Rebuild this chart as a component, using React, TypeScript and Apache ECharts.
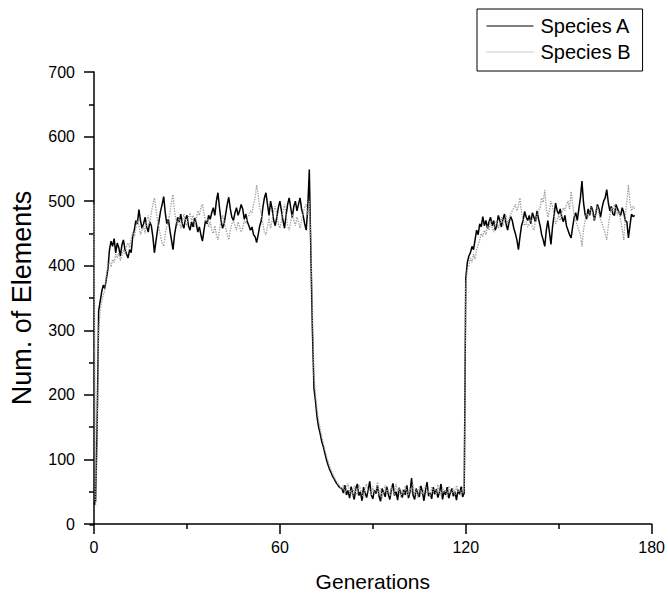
import React, { useEffect, useRef } from "react";
import * as echarts from "echarts";

// Sampling step of the simulation output (generations per sample)
const STEP = 0.5;

const xTicks = [0, 60, 120, 180];
const yTicks = [0, 100, 200, 300, 400, 500, 600, 700];
const seriesNames = ["Species A", "Species B"];

// Species A, one value every 0.5 generation from t = 0
const speciesA = [
  30, 35, 150, 330, 345, 360, 370, 365, 380, 395, 425, 438, 430, 442, 420, 435, 428, 415, 432, 440,
  425, 418, 412, 425, 420, 445, 455, 470, 465, 487, 470, 458, 465, 475, 460, 452, 468, 462, 445, 420,
  438, 455, 470, 485, 495, 507, 482, 465, 472, 455, 440, 425, 448, 462, 475, 468, 480, 465, 458, 472,
  478, 462, 455, 468, 460, 474, 466, 452, 460, 448, 438, 455, 470, 465, 478, 472, 482, 490, 478, 500,
  513, 490, 470, 458, 465, 480, 495, 506, 488, 475, 470, 482, 490, 478, 485, 495, 488, 472, 480, 468,
  462, 455, 460, 448, 445, 436, 448, 462, 470, 490, 505, 513, 495, 478, 500, 488, 470, 462, 475, 490,
  500, 485, 470, 458, 478, 495, 505, 490, 475, 492, 500, 485, 495, 505, 488, 478, 465, 455, 490, 549,
  420, 300, 210, 190, 165, 150, 140, 128, 120, 110, 100, 92, 85, 80, 74, 70, 65, 62, 58, 56,
  55, 48, 60, 45, 52, 40, 58, 47, 38, 55, 62, 44, 50, 36, 57, 48, 41, 53, 66, 45,
  39, 52, 47, 60, 43, 35, 55, 49, 42, 58, 46, 38, 54, 63, 44, 50, 37, 56, 48, 41,
  53, 45, 60, 40, 49, 71, 44, 38, 55, 47, 42, 59, 50, 36, 52, 65, 43, 48, 39, 57,
  46, 54, 41, 49, 62, 38, 51, 45, 57, 40, 48, 55, 43, 50, 37, 53, 46, 58, 42, 48,
  380, 405, 415, 420, 430, 425, 440, 455, 448, 465, 460, 476, 462, 470, 458, 468, 475, 462, 470, 455,
  462, 478, 470, 460, 472, 480, 465, 455, 468, 476, 470, 458, 450, 440, 425, 445, 462, 470, 484, 475,
  470, 478, 465, 482, 475, 468, 485, 472, 462, 448, 440, 430, 455, 470, 452, 433, 460, 478, 497, 485,
  480, 488, 475, 468, 478, 462, 455, 448, 443, 460, 475, 482, 470, 488, 505, 531, 498, 480, 472, 488,
  478, 492, 485, 470, 482, 495, 488, 475, 490, 500, 505, 518, 498, 485, 492, 480, 478, 495, 488, 482,
  478, 490, 482, 470, 468, 443, 462, 480, 476, 478,
];

// Species B, one value every 0.5 generation from t = 0
const speciesB = [
  494, 28, 120, 300, 330, 345, 355, 362, 385, 400, 405, 398, 410, 405, 418, 412, 420, 408, 415, 425,
  418, 430, 435, 428, 442, 452, 445, 458, 470, 462, 448, 455, 462, 450, 470, 478, 465, 482, 495, 505,
  488, 470, 458, 445, 435, 430, 448, 462, 470, 482, 498, 510, 485, 470, 462, 475, 458, 468, 480, 470,
  462, 475, 482, 470, 478, 460, 472, 485, 478, 490, 495, 480, 468, 472, 460, 468, 455, 450, 462, 448,
  440, 455, 470, 478, 468, 458, 448, 440, 455, 465, 470, 462, 455, 468, 460, 452, 458, 470, 465, 475,
  478, 485, 482, 495, 505, 525, 510, 490, 480, 465, 452, 448, 460, 475, 458, 470, 485, 492, 478, 465,
  458, 470, 485, 495, 478, 462, 455, 468, 480, 470, 462, 475, 468, 458, 470, 482, 490, 495, 478, 500,
  440, 330, 230, 200, 178, 160, 148, 135, 126, 115, 106, 98, 90, 84, 78, 73, 68, 64, 60, 58,
  52, 60, 48, 56, 63, 47, 53, 42, 59, 50, 45, 61, 54, 47, 40, 56, 62, 49, 53, 44,
  58, 47, 51, 65, 45, 55, 40, 52, 60, 48, 54, 43, 57, 50, 46, 62, 49, 55, 42, 53,
  47, 59, 51, 44, 56, 49, 62, 45, 53, 41, 58, 50, 46, 55, 60, 48, 52, 43, 57, 50,
  55, 46, 61, 50, 44, 57, 49, 53, 42, 59, 51, 47, 56, 45, 60, 49, 53, 44, 57, 50,
  370, 395, 400, 412, 405, 418, 410, 425, 432, 440, 450, 445, 455, 448, 462, 455, 470, 460, 452, 465,
  470, 458, 465, 475, 462, 470, 478, 465, 472, 480, 485, 490, 495, 485, 492, 505, 482, 470, 462, 468,
  460, 465, 472, 460, 455, 470, 478, 485, 490, 505, 498, 517, 490, 475, 485, 500, 492, 478, 465, 470,
  478, 470, 482, 490, 485, 495, 500, 488, 515, 495, 478, 470, 462, 455, 448, 430, 455, 470, 482, 475,
  482, 490, 478, 470, 485, 492, 480, 472, 465, 458, 450, 440, 462, 478, 490, 485, 495, 488, 478, 485,
  470, 455, 440, 478, 500, 525, 498, 485, 492, 488,
];

const FONT = "'Liberation Sans', Arial, Helvetica, sans-serif";

export default function App() {
  const ref = useRef<HTMLDivElement>(null);

  useEffect(() => {
    if (!ref.current) return;
    const chart = echarts.init(ref.current, null, { renderer: "svg" });
    const toPairs = (arr: number[]) => arr.map((v, i) => [i * STEP, v]);

    const axisCommon = {
      axisLine: { show: true, lineStyle: { color: "#000", width: 1.5 } },
      axisTick: { show: true, inside: false, length: 10, lineStyle: { color: "#000", width: 1.5 } },
      minorTick: { show: true, splitNumber: 2, length: 5, lineStyle: { color: "#000", width: 1.5 } },
      splitLine: { show: false },
      minorSplitLine: { show: false },
    };

    chart.setOption({
      animation: false,
      backgroundColor: "#fff",
      textStyle: { fontFamily: FONT },
      grid: { left: 93, right: 14, top: 72, bottom: 72, containLabel: false },
      legend: {
        orient: "vertical",
        left: 477,
        top: 9,
        padding: [7, 12, 9, 9],
        itemWidth: 47,
        itemHeight: 14,
        itemGap: 6,
        borderColor: "#000",
        borderWidth: 1,
        backgroundColor: "#fff",
        itemStyle: { opacity: 0 },
        lineStyle: { width: 1 },
        textStyle: {
          fontSize: 20,
          lineHeight: 20,
          color: "#000",
          fontFamily: FONT,
          padding: [0, 0, 0, 2],
        },
        data: seriesNames,
      },
      xAxis: {
        type: "value",
        min: xTicks[0],
        max: xTicks[xTicks.length - 1],
        interval: xTicks[1] - xTicks[0],
        name: "Generations",
        nameLocation: "middle",
        nameGap: 47,
        nameTextStyle: { fontSize: 21, color: "#000", fontFamily: FONT },
        axisLabel: { fontSize: 16, color: "#000", margin: 15, fontFamily: FONT },
        ...axisCommon,
      },
      yAxis: {
        type: "value",
        min: yTicks[0],
        max: yTicks[yTicks.length - 1],
        interval: yTicks[1] - yTicks[0],
        offset: 3,
        name: "Num. of Elements",
        nameLocation: "middle",
        nameGap: 56,
        nameTextStyle: { fontSize: 27, color: "#000", fontFamily: FONT },
        axisLabel: { fontSize: 16, color: "#000", margin: 16, fontFamily: FONT },
        ...axisCommon,
      },
      graphic: [
        {
          type: "line",
          shape: { x1: 89.5, y1: 525, x2: 93.5, y2: 525 },
          style: { stroke: "#000", lineWidth: 1.5 },
        },
      ],
      series: [
        {
          name: seriesNames[0],
          type: "line",
          data: toPairs(speciesA),
          symbol: "none",
          lineStyle: { color: "#000", width: 1.5 },
          itemStyle: { color: "#000" },
        },
        {
          name: seriesNames[1],
          type: "line",
          data: toPairs(speciesB),
          symbol: "none",
          lineStyle: { color: "#999", width: 1.3, type: "dotted" },
          itemStyle: { color: "#999" },
        },
      ],
    });

    return () => chart.dispose();
  }, []);

  return (
    <div
      ref={ref}
      style={{ position: "fixed", left: 0, top: 0, width: 668, height: 597 }}
    />
  );
}
